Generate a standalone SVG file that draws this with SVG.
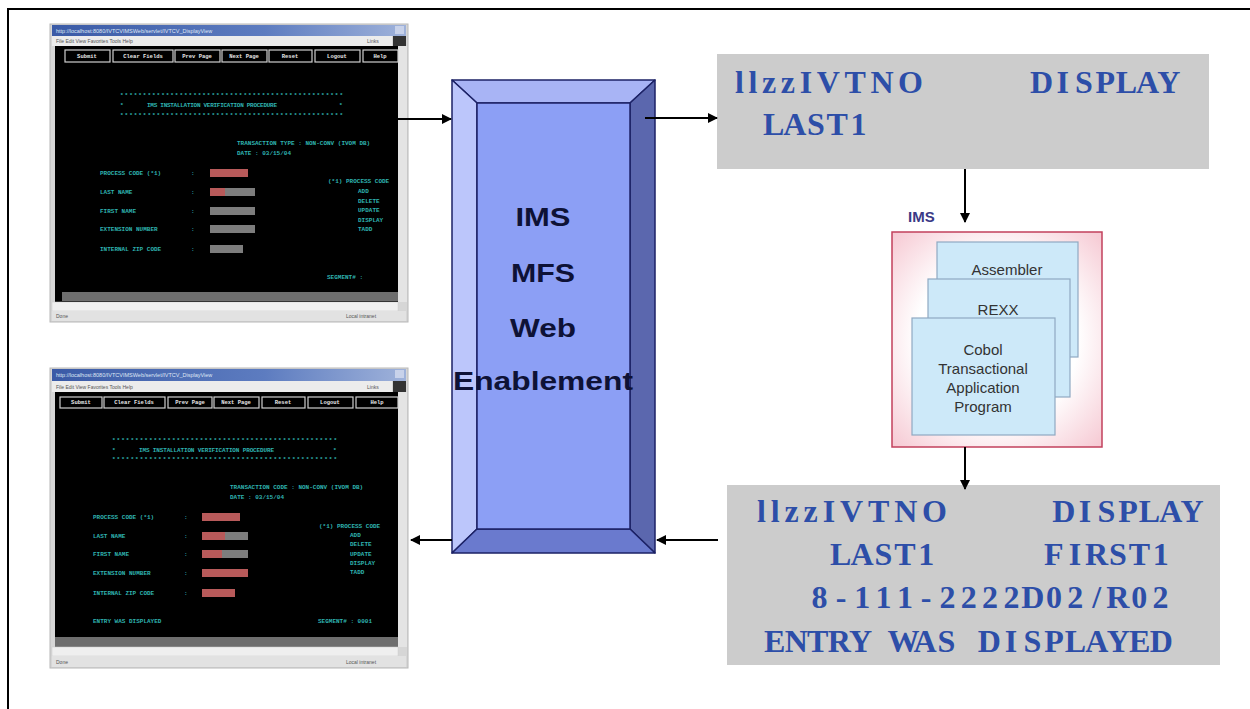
<svg xmlns="http://www.w3.org/2000/svg" width="1250" height="709" viewBox="0 0 1250 709">
<defs>
<style>
.frame{stroke:#000;stroke-width:2;fill:none}
.win{fill:#d6d6d6;stroke:#b8b8b8;stroke-width:1}
.menu{fill:#ececec}
.screen{fill:#000}
.vscroll{fill:#e4e4e4}
.hscroll{fill:#efefef;stroke:#ccc;stroke-width:0.5}
.status{fill:#e2e2e2}
.btn{fill:#000;stroke:#cfcfcf;stroke-width:1.2}
.btxt{font-family:"Liberation Mono",monospace;font-size:5.5px;font-weight:bold;fill:#e8e8e8;text-anchor:middle}
.mtxt{font-family:"Liberation Sans",sans-serif;font-size:5px;fill:#555}
.ttxt{font-family:"Liberation Sans",sans-serif;font-size:5.5px;fill:#dfe6f5}
.cy{font-family:"Liberation Mono",monospace;font-size:6px;font-weight:bold;fill:#2fb3b0}
.fld-r{fill:#b85a5a}
.fld-g{fill:#7d7d7d}
.graybox{fill:#cccccc}
.mono{font-family:"Liberation Serif","Times New Roman",serif;font-weight:bold;font-size:32px;fill:#2d4ea8;text-anchor:middle}
.monol{font-family:"Liberation Serif","Times New Roman",serif;font-weight:bold;font-size:32px;fill:#2d4ea8}
.bigt{font-family:"Liberation Sans",Arial,sans-serif;font-weight:bold;font-size:25px;fill:#0e1236;text-anchor:middle}
.card{fill:#cde9f9;stroke:#8fa9c2;stroke-width:1.2}
.ctxt{font-family:"Liberation Sans",Arial,sans-serif;font-size:15px;fill:#333;text-anchor:middle}
.conn{stroke:#000;stroke-width:2;fill:none}
</style>
<marker id="ah" viewBox="0 0 10 10" refX="9" refY="5" markerWidth="5" markerHeight="5" orient="auto">
<path d="M0,0 L10,5 L0,10 z" fill="#000"/>
</marker>
<linearGradient id="tbar" x1="0" y1="0" x2="1" y2="0">
<stop offset="0" stop-color="#3a5aa6"/>
<stop offset="0.6" stop-color="#5d7cc0"/>
<stop offset="1" stop-color="#9fb2da"/>
</linearGradient>
<radialGradient id="pink" cx="0.5" cy="0.5" r="0.7">
<stop offset="0.55" stop-color="#ffffff"/>
<stop offset="1" stop-color="#f6c9d3"/>
</radialGradient>
</defs>
<rect x="0" y="0" width="1250" height="709" fill="#fff"/>
<path class="frame" d="M8,709 L8,9 L1250,9"/>

<!-- Screenshot 1 -->
<g id="screen-top">
<rect class="win" x="50" y="24" width="358" height="298"/>
<rect x="52" y="25" width="354" height="11" fill="url(#tbar)"/>
<text class="ttxt" x="56" y="33">http://localhost:8080/IVTCVIMSWeb/servlet/IVTCV_DisplayView</text>
<rect x="395" y="26" width="9" height="8" fill="#c8d2ea"/>
<rect class="menu" x="52" y="36" width="340" height="10"/>
<text class="mtxt" x="56" y="43">File   Edit   View   Favorites   Tools   Help</text>
<text class="mtxt" x="367" y="43">Links</text>
<rect x="393" y="36" width="13" height="11" fill="#333"/>
<rect class="screen" x="55" y="46" width="343" height="256"/>
<rect class="vscroll" x="398" y="46" width="9" height="256"/>
<rect class="btn" x="65" y="50" width="45" height="12"/>
<rect class="btn" x="113" y="50" width="60" height="12"/>
<rect class="btn" x="175" y="50" width="45" height="12"/>
<rect class="btn" x="222" y="50" width="45" height="12"/>
<rect class="btn" x="269" y="50" width="43" height="12"/>
<rect class="btn" x="315" y="50" width="45" height="12"/>
<rect class="btn" x="363" y="50" width="35" height="12"/>
<text class="btxt" x="87" y="58">Submit</text>
<text class="btxt" x="143" y="58">Clear Fields</text>
<text class="btxt" x="197" y="58">Prev Page</text>
<text class="btxt" x="244" y="58">Next Page</text>
<text class="btxt" x="290" y="58">Reset</text>
<text class="btxt" x="337" y="58">Logout</text>
<text class="btxt" x="380" y="58">Help</text>
<text class="cy" x="120" y="97" textLength="223">*************************************************</text>
<text class="cy" x="120" y="107">*</text>
<text class="cy" x="147" y="107" textLength="130">IMS INSTALLATION VERIFICATION PROCEDURE</text>
<text class="cy" x="339" y="107">*</text>
<text class="cy" x="120" y="117" textLength="223">*************************************************</text>
<text class="cy" x="237" y="145">TRANSACTION TYPE : NON-CONV (IVOM DB)</text>
<text class="cy" x="237" y="155">DATE             : 03/15/04</text>
<text class="cy" x="100" y="175">PROCESS  CODE  (*1)</text>
<text class="cy" x="100" y="194">LAST  NAME</text>
<text class="cy" x="100" y="213">FIRST  NAME</text>
<text class="cy" x="100" y="231">EXTENSION  NUMBER</text>
<text class="cy" x="100" y="251">INTERNAL  ZIP CODE</text>
<text class="cy" x="191" y="175">:</text>
<text class="cy" x="191" y="194">:</text>
<text class="cy" x="191" y="213">:</text>
<text class="cy" x="191" y="231">:</text>
<text class="cy" x="191" y="251">:</text>
<rect class="fld-r" x="210" y="169" width="38" height="8"/>
<rect class="fld-g" x="210" y="188" width="45" height="8"/>
<rect class="fld-r" x="210" y="188" width="15" height="8"/>
<rect class="fld-g" x="210" y="207" width="45" height="8"/>
<rect class="fld-g" x="210" y="225" width="45" height="8"/>
<rect class="fld-g" x="210" y="245" width="33" height="8"/>
<text class="cy" x="328" y="183">(*1) PROCESS CODE</text>
<text class="cy" x="358" y="193">ADD</text>
<text class="cy" x="358" y="203">DELETE</text>
<text class="cy" x="358" y="212">UPDATE</text>
<text class="cy" x="358" y="222">DISPLAY</text>
<text class="cy" x="358" y="231">TADD</text>
<text class="cy" x="327" y="279">SEGMENT# :</text>
<rect x="62" y="292" width="336" height="9" fill="#6e6e6e"/>
<rect class="hscroll" x="52" y="302" width="346" height="9"/>
<rect class="status" x="52" y="311" width="354" height="10"/>
<text class="mtxt" x="56" y="318">Done</text>
<text class="mtxt" x="346" y="318">Local intranet</text>
</g>

<!-- Screenshot 2 -->
<g id="screen-bottom">
<rect class="win" x="50" y="368" width="358" height="300"/>
<rect x="52" y="369" width="354" height="12" fill="url(#tbar)"/>
<text class="ttxt" x="56" y="377">http://localhost:8080/IVTCVIMSWeb/servlet/IVTCV_DisplayView</text>
<rect x="395" y="370" width="9" height="8" fill="#c8d2ea"/>
<rect class="menu" x="52" y="381" width="340" height="11"/>
<text class="mtxt" x="56" y="389">File   Edit   View   Favorites   Tools   Help</text>
<text class="mtxt" x="367" y="389">Links</text>
<rect x="393" y="381" width="13" height="11" fill="#333"/>
<rect class="screen" x="55" y="392" width="343" height="255"/>
<rect class="vscroll" x="398" y="392" width="9" height="255"/>
<rect class="btn" x="60" y="397" width="42" height="11"/>
<rect class="btn" x="104" y="397" width="61" height="11"/>
<rect class="btn" x="168" y="397" width="44" height="11"/>
<rect class="btn" x="214" y="397" width="45" height="11"/>
<rect class="btn" x="262" y="397" width="43" height="11"/>
<rect class="btn" x="308" y="397" width="45" height="11"/>
<rect class="btn" x="356" y="397" width="42" height="11"/>
<text class="btxt" x="81" y="404">Submit</text>
<text class="btxt" x="134" y="404">Clear Fields</text>
<text class="btxt" x="190" y="404">Prev Page</text>
<text class="btxt" x="236" y="404">Next Page</text>
<text class="btxt" x="283" y="404">Reset</text>
<text class="btxt" x="330" y="404">Logout</text>
<text class="btxt" x="377" y="404">Help</text>
<text class="cy" x="112" y="442" textLength="225">*************************************************</text>
<text class="cy" x="112" y="452">*</text>
<text class="cy" x="139" y="452" textLength="135">IMS INSTALLATION VERIFICATION PROCEDURE</text>
<text class="cy" x="333" y="452">*</text>
<text class="cy" x="112" y="461" textLength="225">*************************************************</text>
<text class="cy" x="230" y="489">TRANSACTION CODE : NON-CONV (IVOM DB)</text>
<text class="cy" x="230" y="499">DATE             : 03/15/04</text>
<text class="cy" x="93" y="519">PROCESS  CODE  (*1)</text>
<text class="cy" x="93" y="538">LAST  NAME</text>
<text class="cy" x="93" y="556">FIRST  NAME</text>
<text class="cy" x="93" y="575">EXTENSION  NUMBER</text>
<text class="cy" x="93" y="595">INTERNAL  ZIP CODE</text>
<text class="cy" x="184" y="519">:</text>
<text class="cy" x="184" y="538">:</text>
<text class="cy" x="184" y="556">:</text>
<text class="cy" x="184" y="575">:</text>
<text class="cy" x="184" y="595">:</text>
<rect class="fld-r" x="202" y="513" width="38" height="8"/>
<rect class="fld-g" x="202" y="532" width="46" height="8"/>
<rect class="fld-r" x="202" y="532" width="23" height="8"/>
<rect class="fld-g" x="202" y="550" width="46" height="8"/>
<rect class="fld-r" x="202" y="550" width="20" height="8"/>
<rect class="fld-r" x="202" y="569" width="46" height="8"/>
<rect class="fld-r" x="202" y="589" width="33" height="8"/>
<text class="cy" x="319" y="528">(*1) PROCESS CODE</text>
<text class="cy" x="350" y="537">ADD</text>
<text class="cy" x="350" y="546">DELETE</text>
<text class="cy" x="350" y="556">UPDATE</text>
<text class="cy" x="350" y="565">DISPLAY</text>
<text class="cy" x="350" y="574">TADD</text>
<text class="cy" x="93" y="623">ENTRY WAS DISPLAYED</text>
<text class="cy" x="318" y="623">SEGMENT# :  0001</text>
<rect x="55" y="637" width="343" height="10" fill="#6e6e6e"/>
<rect class="hscroll" x="52" y="647" width="346" height="9"/>
<rect class="status" x="52" y="656" width="354" height="11"/>
<text class="mtxt" x="56" y="664">Done</text>
<text class="mtxt" x="346" y="664">Local intranet</text>
</g>

<!-- Central box -->
<g id="mfs-web">
<g stroke="#1c2266" stroke-width="1.5" stroke-linejoin="round">
<polygon points="452,80 655,80 630,103 477,103" fill="#a8b4f5"/>
<polygon points="452,80 477,103 477,529 452,553" fill="#bcc6fb"/>
<polygon points="655,80 655,553 630,529 630,103" fill="#5b67ae"/>
<polygon points="452,553 655,553 630,529 477,529" fill="#6a7ace"/>
<rect x="477" y="103" width="153" height="426" fill="#8c9ff5"/>
</g>
<text class="bigt" x="543" y="226" textLength="55" lengthAdjust="spacingAndGlyphs">IMS</text>
<text class="bigt" x="543" y="282" textLength="64" lengthAdjust="spacingAndGlyphs">MFS</text>
<text class="bigt" x="543" y="337" textLength="66" lengthAdjust="spacingAndGlyphs">Web</text>
<text class="bigt" x="543" y="390" textLength="180" lengthAdjust="spacingAndGlyphs">Enablement</text>
</g>

<!-- Input message box -->
<g id="input-msg">
<rect class="graybox" x="717" y="54" width="492" height="115"/>
<text class="monol" x="735" y="93" textLength="188">llzzIVTNO</text>
<text class="mono" x="1041.6 1062.8 1084 1105.2 1126.4 1147.6 1168.8" y="93">DISPLAY</text>
<text class="mono" x="773.6 794.8 816 837.2 858.4" y="135">LAST1</text>
</g>

<!-- IMS application box -->
<g id="ims-app">
<text x="908" y="222" font-family="Liberation Sans, Arial, sans-serif" font-weight="bold" font-size="15" fill="#3b3a86">IMS</text>
<rect x="892" y="232" width="210" height="215" fill="url(#pink)" stroke="#c2405c" stroke-width="1.5"/>
<rect class="card" x="937" y="242" width="141" height="115"/>
<text class="ctxt" x="1007" y="275">Assembler</text>
<rect class="card" x="928" y="279" width="142" height="118"/>
<text class="ctxt" x="998" y="315">REXX</text>
<rect class="card" x="912" y="318" width="143" height="117"/>
<text class="ctxt" x="983" y="355">Cobol</text>
<text class="ctxt" x="983" y="374">Transactional</text>
<text class="ctxt" x="983" y="393">Application</text>
<text class="ctxt" x="983" y="412">Program</text>
</g>

<!-- Output message box -->
<g id="output-msg">
<rect class="graybox" x="727" y="485" width="493" height="180"/>
<text class="monol" x="757" y="522" textLength="190">llzzIVTNO</text>
<text class="mono" x="1063.7 1085.1 1106.5 1127.9 1149.3 1170.7 1192.1" y="522">DISPLAY</text>
<text class="mono" x="840.7 862.1 883.5 904.9 926.3" y="565">LAST1</text>
<text class="mono" x="1053.7 1075.1 1096.5 1117.9 1139.3 1160.7" y="565">FIRST1</text>
<text class="mono" x="819.6 841 862.3 883.6 904.9 926.2 947.5 968.8 990.1 1011.4 1032.7 1054 1075.3 1096.6 1117.9 1139.2 1160.5" y="608">8-111-2222D02/R02</text>
<text class="mono" x="774.7 796.2 817.7 839.2 860.6 882.1 903.6 925 946.5 968 989.4 1010.9 1032.4 1053.9 1075.3 1096.8 1118.3 1139.7 1161.2" y="652">ENTRY WAS DISPLAYED</text>
</g>

<!-- Connectors -->
<g id="connectors">
<line class="conn" x1="398" y1="119" x2="451" y2="119" marker-end="url(#ah)"/>
<line class="conn" x1="645" y1="118" x2="717" y2="118" marker-end="url(#ah)"/>
<line class="conn" x1="965" y1="169" x2="965" y2="222" marker-end="url(#ah)"/>
<line class="conn" x1="965" y1="447" x2="965" y2="489" marker-end="url(#ah)"/>
<line class="conn" x1="718" y1="540" x2="657" y2="540" marker-end="url(#ah)"/>
<line class="conn" x1="452" y1="540" x2="411" y2="540" marker-end="url(#ah)"/>
</g>
</svg>
